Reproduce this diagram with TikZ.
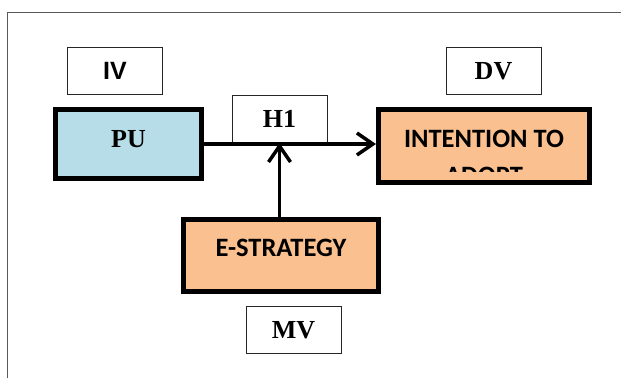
\documentclass[tikz,border=0pt]{standalone}
\usepackage{fontspec}
\setmainfont{Liberation Serif}
\newfontfamily\carlito{Carlito}
\newfontfamily\arialfont{Liberation Sans}
\usetikzlibrary{positioning, arrows.meta}
\definecolor{pulight}{RGB}{183,222,232}
\definecolor{peach}{RGB}{250,192,143}

\begin{document}
\begin{tikzpicture}[x=1pt, y=-1pt, >={Straight Barb[length=16pt,width=22pt]},
    tagbox/.style={draw=black!85, line width=0.9pt, rectangle, minimum width=95pt, minimum height=47pt, inner sep=0pt, font=\bfseries\fontsize{26}{30}\selectfont},
    varbox/.style={draw, line width=5pt, rectangle, inner sep=0pt, text height=17pt, text depth=15pt, font=\carlito\bfseries\fontsize{26.5}{32}\selectfont}]

    \useasboundingbox (0,0) rectangle (621,378);

    % page frame, runs off at the right and bottom
    \draw[black!65, line width=0.8pt] (7,378) -- (7,12) -- (621,12);

    % the three variables
    \node[varbox, fill=pulight, minimum width=146pt, minimum height=69pt, text depth=11pt, font=\bfseries\fontsize{26}{30}\selectfont] (pu) at (128.5,144) {PU};
    \node[varbox, fill=peach, minimum width=211pt, minimum height=73pt] (intent) at (484,146) {INTENTION TO};
    \node[varbox, fill=peach, minimum width=195pt, minimum height=72pt] (estrat) at (281,255.5) {E-STRATEGY};

    % second line of the outcome box, cut off by its text frame
    \begin{scope}
        \clip (380,160) rectangle (590,171);
        \node[font=\carlito\bfseries\fontsize{26.5}{32}\selectfont, anchor=base, inner sep=0pt] (adopt) at (484,184) {ADOPT};
    \end{scope}

    % small tag boxes
    \node[tagbox, font=\arialfont\bfseries\fontsize{25}{29}\selectfont] (iv) at (115,71) {IV};
    \node[tagbox] (dv) at (493.5,71) {DV};
    \node[tagbox, fill=white] (h1) at (279.5,119) {H1};
    \node[tagbox] (mv) at (293.5,330) {MV};

    % arrows
    \draw[->, line width=3.5pt] (pu.east) -- (pu.east -| intent.west);
    \draw[->, line width=3.5pt] (estrat.north -| h1.south) -- (h1.south);

\end{tikzpicture}
\end{document}
